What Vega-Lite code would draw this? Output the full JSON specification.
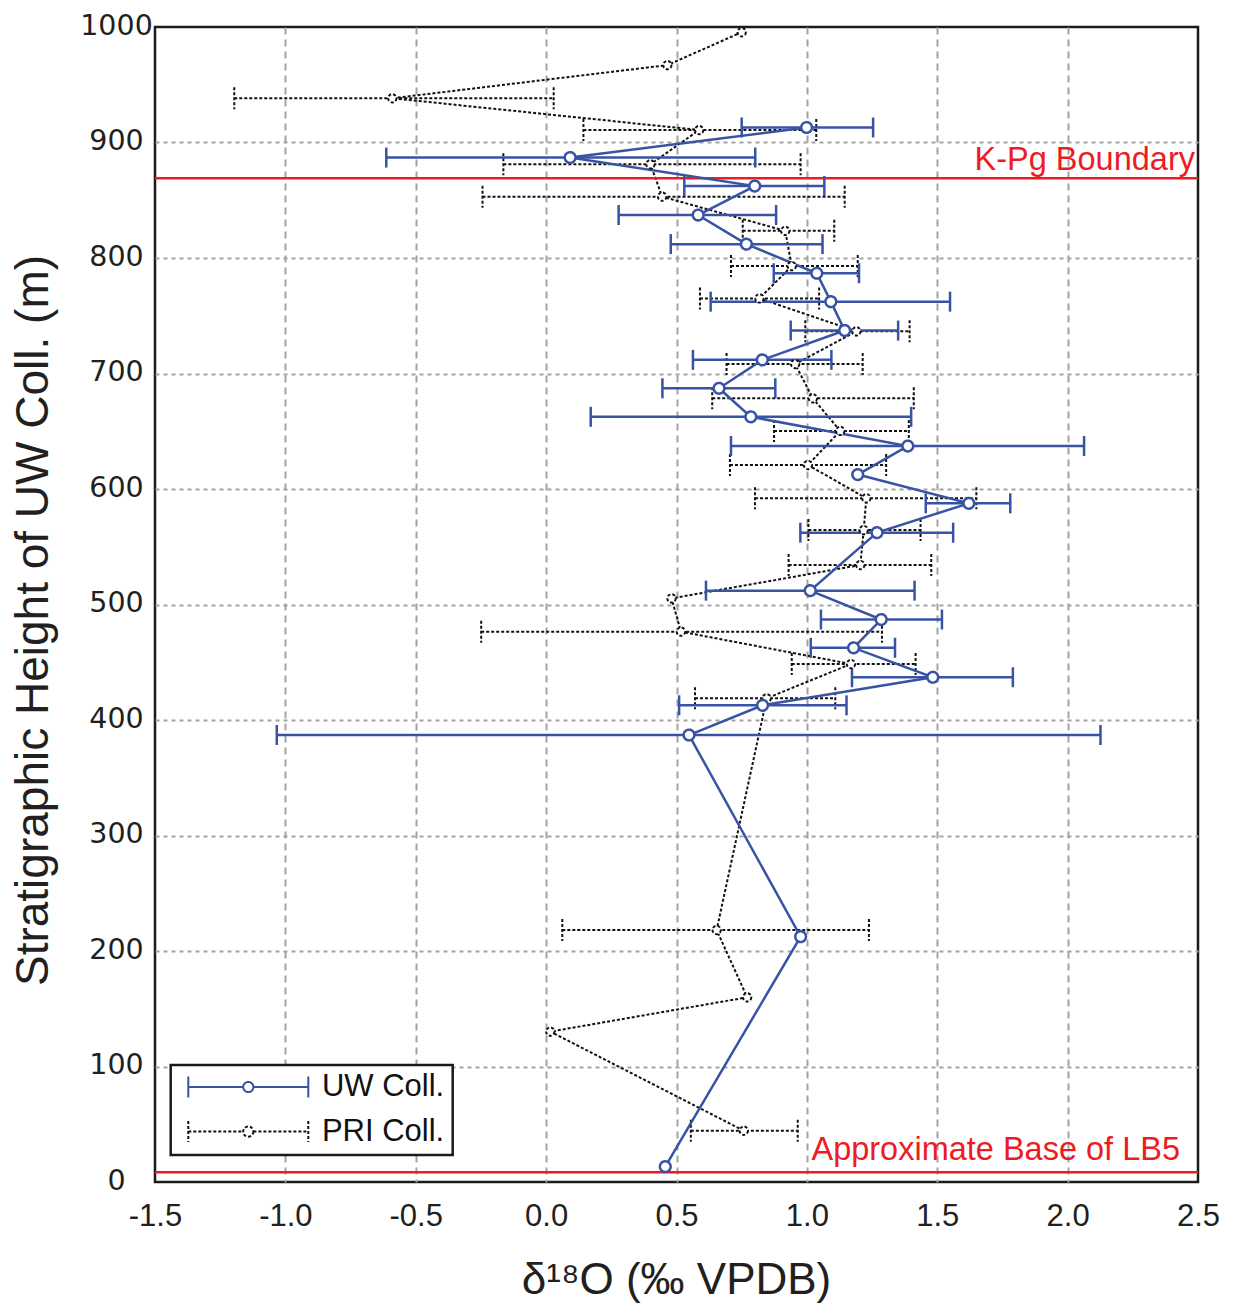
{
  "$schema": "https://vega.github.io/schema/vega-lite/v6.json",
  "autosize": {"type": "none"},
  "width": 1043,
  "height": 1155,
  "padding": {"left": 155, "top": 27, "right": 38, "bottom": 121},
  "background": "white",
  "config": {
    "font": "Liberation Sans",
    "view": {"stroke": "#1a1a1a", "strokeWidth": 2.5},
    "legend": {"strokeWidth": 2.5},
    "axis": {"domain": false, "ticks": false, "grid": true, "labelFlush": false, "gridColor": "#a3a3a3", "gridWidth": 2, "titleFontWeight": "normal", "labelColor": "#231f20", "titleColor": "#231f20"}
  },
  "datasets": {
    "uw": [
      {"series": "UW Coll.", "h": 913, "d": 0.999, "lo": 0.75, "hi": 1.254},
      {"series": "UW Coll.", "h": 887, "d": 0.092, "lo": -0.613, "hi": 0.802},
      {"series": "UW Coll.", "h": 862.3, "d": 0.8, "lo": 0.53, "hi": 1.067},
      {"series": "UW Coll.", "h": 837.2, "d": 0.583, "lo": 0.278, "hi": 0.882},
      {"series": "UW Coll.", "h": 812, "d": 0.768, "lo": 0.478, "hi": 1.06},
      {"series": "UW Coll.", "h": 786.8, "d": 1.038, "lo": 0.873, "hi": 1.2},
      {"series": "UW Coll.", "h": 762.2, "d": 1.092, "lo": 0.631, "hi": 1.549},
      {"series": "UW Coll.", "h": 737.2, "d": 1.145, "lo": 0.938, "hi": 1.35},
      {"series": "UW Coll.", "h": 711.8, "d": 0.829, "lo": 0.563, "hi": 1.094},
      {"series": "UW Coll.", "h": 687.2, "d": 0.663, "lo": 0.446, "hi": 0.879},
      {"series": "UW Coll.", "h": 662.5, "d": 0.785, "lo": 0.171, "hi": 1.4},
      {"series": "UW Coll.", "h": 637.2, "d": 1.387, "lo": 0.709, "hi": 2.063},
      {"series": "UW Coll.", "h": 612.5, "d": 1.195, "lo": null, "hi": null},
      {"series": "UW Coll.", "h": 587.6, "d": 1.621, "lo": 1.456, "hi": 1.78},
      {"series": "UW Coll.", "h": 562.2, "d": 1.269, "lo": 0.975, "hi": 1.561},
      {"series": "UW Coll.", "h": 512, "d": 1.013, "lo": 0.613, "hi": 1.413},
      {"series": "UW Coll.", "h": 487, "d": 1.285, "lo": 1.054, "hi": 1.518},
      {"series": "UW Coll.", "h": 462.5, "d": 1.179, "lo": 1.015, "hi": 1.338},
      {"series": "UW Coll.", "h": 437, "d": 1.483, "lo": 1.173, "hi": 1.79},
      {"series": "UW Coll.", "h": 412.7, "d": 0.83, "lo": 0.51, "hi": 1.152},
      {"series": "UW Coll.", "h": 387, "d": 0.548, "lo": -1.033, "hi": 2.126},
      {"series": "UW Coll.", "h": 212.4, "d": 0.976, "lo": null, "hi": null},
      {"series": "UW Coll.", "h": 13.3, "d": 0.457, "lo": null, "hi": null}
    ],
    "pri": [
      {"series": "PRI Coll.", "h": 995.5, "d": 0.75, "lo": null, "hi": null},
      {"series": "PRI Coll.", "h": 967, "d": 0.465, "lo": null, "hi": null},
      {"series": "PRI Coll.", "h": 938.3, "d": -0.59, "lo": -1.196, "hi": 0.029},
      {"series": "PRI Coll.", "h": 910.8, "d": 0.587, "lo": 0.143, "hi": 1.036},
      {"series": "PRI Coll.", "h": 881.1, "d": 0.4, "lo": -0.164, "hi": 0.976},
      {"series": "PRI Coll.", "h": 853.1, "d": 0.445, "lo": -0.244, "hi": 1.145},
      {"series": "PRI Coll.", "h": 823.5, "d": 0.917, "lo": 0.754, "hi": 1.105},
      {"series": "PRI Coll.", "h": 793, "d": 0.942, "lo": 0.709, "hi": 1.195},
      {"series": "PRI Coll.", "h": 765, "d": 0.818, "lo": 0.59, "hi": 1.047},
      {"series": "PRI Coll.", "h": 736.5, "d": 1.19, "lo": 0.994, "hi": 1.394},
      {"series": "PRI Coll.", "h": 708.2, "d": 0.955, "lo": 0.692, "hi": 1.214},
      {"series": "PRI Coll.", "h": 678.5, "d": 1.023, "lo": 0.637, "hi": 1.41},
      {"series": "PRI Coll.", "h": 650.3, "d": 1.128, "lo": 0.874, "hi": 1.391},
      {"series": "PRI Coll.", "h": 620.8, "d": 1.004, "lo": 0.705, "hi": 1.304},
      {"series": "PRI Coll.", "h": 592, "d": 1.228, "lo": 0.801, "hi": 1.65},
      {"series": "PRI Coll.", "h": 564.5, "d": 1.218, "lo": 1.006, "hi": 1.436},
      {"series": "PRI Coll.", "h": 534.2, "d": 1.205, "lo": 0.93, "hi": 1.477},
      {"series": "PRI Coll.", "h": 505.3, "d": 0.481, "lo": null, "hi": null},
      {"series": "PRI Coll.", "h": 476.5, "d": 0.517, "lo": -0.249, "hi": 1.288},
      {"series": "PRI Coll.", "h": 448.5, "d": 1.169, "lo": 0.942, "hi": 1.417},
      {"series": "PRI Coll.", "h": 418.8, "d": 0.846, "lo": 0.571, "hi": 1.109},
      {"series": "PRI Coll.", "h": 218.2, "d": 0.654, "lo": 0.062, "hi": 1.238},
      {"series": "PRI Coll.", "h": 159.9, "d": 0.771, "lo": null, "hi": null},
      {"series": "PRI Coll.", "h": 130.2, "d": 0.016, "lo": null, "hi": null},
      {"series": "PRI Coll.", "h": 44.4, "d": 0.758, "lo": 0.555, "hi": 0.965}
    ],
    "refs": [
      {"h": 869, "label": "K-Pg Boundary"},
      {"h": 8.4, "label": "Approximate Base of LB5"}
    ]
  },
  "layer": [
    {
      "data": {"name": "pri"},
      "mark": {"type": "line", "color": "#111", "strokeWidth": 2, "strokeDash": [3, 2]},
      "encoding": {
        "x": {"field": "d", "type": "quantitative", "scale": {"domain": [-1.5, 2.5], "nice": false, "zero": false},
          "axis": {"values": [-1.5, -1.0, -0.5, 0, 0.5, 1.0, 1.5, 2.0, 2.5], "labelExpr": "datum.value < 0 ? '-' + format(-datum.value, '.1f') : format(datum.value, '.1f')", "labelFont": "Liberation Sans", "labelFontSize": 31, "labelPadding": 19, "labelBaseline": "top", "gridDash": [7, 5],
            "gridOpacity": {"condition": {"test": "datum.value <= -1.5 || datum.value >= 2.5", "value": 0}, "value": 1},
            "title": "δ¹⁸O (‰ VPDB)", "titleFont": "Liberation Sans", "titleFontSize": 44, "titleX": 521, "titleY": 111, "titleBaseline": "alphabetic", "titleAlign": "center"}},
        "y": {"field": "h", "type": "quantitative", "scale": {"domain": [0, 1000], "nice": false, "zero": false},
          "axis": {"values": [0, 100, 200, 300, 400, 500, 600, 700, 800, 900, 1000], "format": "d", "labelFont": "DejaVu Sans", "labelFontSize": 28.5, "labelAlign": "center", "labelPadding": 39, "labelBaseline": "middle", "labelOffset": -2, "gridDash": [4, 4],
            "gridOpacity": {"condition": {"test": "datum.value <= 0 || datum.value >= 1000", "value": 0}, "value": 1},
            "title": "Stratigraphic Height of UW Coll. (m)", "titleFont": "Liberation Sans", "titleFontSize": 46, "titleAngle": -90, "titleX": -108, "titleY": 593, "titleAlign": "center", "titleBaseline": "alphabetic"}},
        "order": {"field": "h", "type": "quantitative"}
      }
    },
    {
      "data": {"name": "refs"},
      "mark": {"type": "rule", "color": "#ed1c24", "strokeWidth": 2.5},
      "encoding": {"y": {"field": "h", "type": "quantitative"}}
    },
    {
      "data": {"name": "refs"},
      "transform": [{"filter": "datum.label == 'K-Pg Boundary'"}],
      "mark": {"type": "text", "color": "#ed1c24", "font": "Liberation Sans", "fontSize": 32.5, "align": "right", "baseline": "alphabetic", "dx": -3, "dy": -8},
      "encoding": {"x": {"value": "width"}, "y": {"field": "h", "type": "quantitative"}, "text": {"field": "label", "type": "nominal"}}
    },
    {
      "data": {"name": "refs"},
      "transform": [{"filter": "datum.label != 'K-Pg Boundary'"}],
      "mark": {"type": "text", "color": "#ed1c24", "font": "Liberation Sans", "fontSize": 32.5, "align": "right", "baseline": "alphabetic", "dx": -18, "dy": -12},
      "encoding": {"x": {"value": "width"}, "y": {"field": "h", "type": "quantitative"}, "text": {"field": "label", "type": "nominal"}}
    },
    {
      "data": {"name": "pri"},
      "transform": [{"filter": "datum.lo != null"}],
      "mark": {"type": "rule", "color": "#111", "strokeWidth": 2, "strokeDash": [3, 2]},
      "encoding": {"x": {"field": "lo", "type": "quantitative"}, "x2": {"field": "hi"}, "y": {"field": "h", "type": "quantitative"}}
    },
    {
      "data": {"name": "pri"},
      "transform": [{"filter": "datum.lo != null"}],
      "mark": {"type": "rule", "color": "#111", "strokeWidth": 2, "strokeDash": [3, 2], "yOffset": -11, "y2Offset": 11},
      "encoding": {"x": {"field": "lo", "type": "quantitative"}, "y": {"field": "h", "type": "quantitative"}, "y2": {"field": "h"}}
    },
    {
      "data": {"name": "pri"},
      "transform": [{"filter": "datum.lo != null"}],
      "mark": {"type": "rule", "color": "#111", "strokeWidth": 2, "strokeDash": [3, 2], "yOffset": -11, "y2Offset": 11},
      "encoding": {"x": {"field": "hi", "type": "quantitative"}, "y": {"field": "h", "type": "quantitative"}, "y2": {"field": "h"}}
    },
    {
      "data": {"name": "uw"},
      "mark": {"type": "line", "color": "#3953a4", "strokeWidth": 2.5},
      "encoding": {"x": {"field": "d", "type": "quantitative"}, "y": {"field": "h", "type": "quantitative"}, "order": {"field": "h", "type": "quantitative"}}
    },
    {
      "data": {"name": "uw"},
      "transform": [{"filter": "datum.lo != null"}],
      "mark": {"type": "rule", "color": "#3953a4", "strokeWidth": 2.5},
      "encoding": {"x": {"field": "lo", "type": "quantitative"}, "x2": {"field": "hi"}, "y": {"field": "h", "type": "quantitative"}}
    },
    {
      "data": {"name": "uw"},
      "transform": [{"filter": "datum.lo != null"}],
      "mark": {"type": "rule", "color": "#3953a4", "strokeWidth": 2.5, "yOffset": -10, "y2Offset": 10},
      "encoding": {"x": {"field": "lo", "type": "quantitative"}, "y": {"field": "h", "type": "quantitative"}, "y2": {"field": "h"}}
    },
    {
      "data": {"name": "uw"},
      "transform": [{"filter": "datum.lo != null"}],
      "mark": {"type": "rule", "color": "#3953a4", "strokeWidth": 2.5, "yOffset": -10, "y2Offset": 10},
      "encoding": {"x": {"field": "hi", "type": "quantitative"}, "y": {"field": "h", "type": "quantitative"}, "y2": {"field": "h"}}
    },
    {
      "data": {"name": "pri"},
      "mark": {"type": "point", "filled": false, "fill": "white", "fillOpacity": 1, "size": 70, "strokeWidth": 2, "opacity": 1},
      "encoding": {
        "x": {"field": "d", "type": "quantitative"}, "y": {"field": "h", "type": "quantitative"},
        "strokeDash": {"field": "series", "type": "nominal", "scale": {"domain": ["UW Coll.", "PRI Coll."], "range": [[1, 0], [3, 2]]}},
        "stroke": {"field": "series", "type": "nominal",
          "scale": {"domain": ["UW Coll.", "PRI Coll."], "range": ["#3953a4", "#111111"]},
          "legend": {
            "title": null, "orient": "none", "legendX": 15.7, "legendY": 1038,
            "symbolType": "M-1,0L-0.085,0M0.085,0L1,0M-1,-0.175L-1,0.175M1,-0.175L1,0.175M0.085,0A0.085,0.085,0,1,1,-0.085,0A0.085,0.085,0,1,1,0.085,0",
            "symbolSize": 14400, "symbolStrokeWidth": 2, "symbolOffset": 8.6, "symbolFillColor": "white",
            "labelOffset": 12.6, "clipHeight": 28, "rowPadding": 13.6, "padding": 8,
            "strokeColor": "#1a1a1a", "fillColor": "white", "cornerRadius": 0,
            "labelFont": "Liberation Sans", "labelFontSize": 31, "labelColor": "#111", "labelLimit": 300, "labelBaseline": "middle"
          }
        }
      }
    },
    {
      "data": {"name": "uw"},
      "mark": {"type": "point", "filled": false, "fill": "white", "fillOpacity": 1, "size": 115, "strokeWidth": 2.5, "opacity": 1},
      "encoding": {
        "x": {"field": "d", "type": "quantitative"}, "y": {"field": "h", "type": "quantitative"},
        "strokeDash": {"field": "series", "type": "nominal"},
        "stroke": {"field": "series", "type": "nominal"}
      }
    }
  ]
}
